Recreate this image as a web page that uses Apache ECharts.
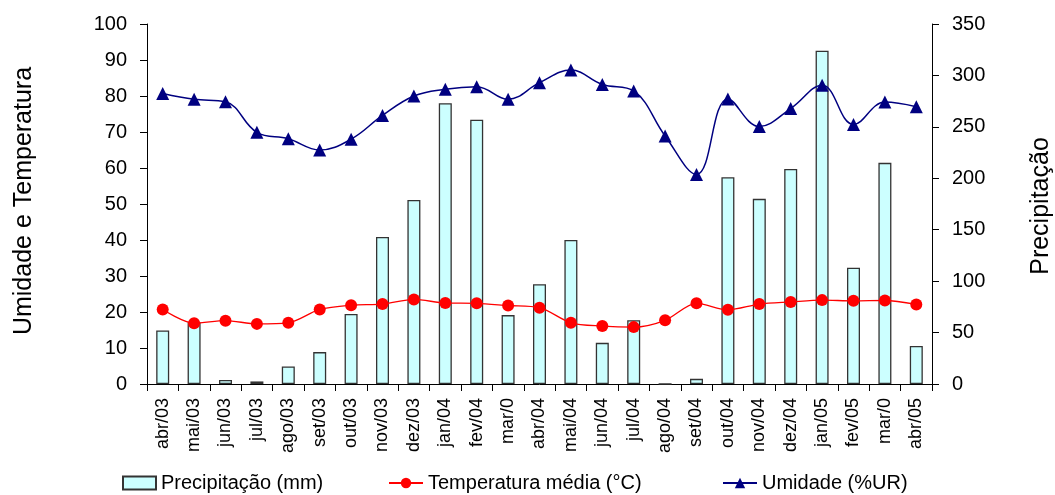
<!DOCTYPE html>
<html>
<head>
<meta charset="utf-8">
<script src="https://cdn.jsdelivr.net/npm/echarts@6/dist/echarts.min.js"></script>
<style>html,body{margin:0;padding:0;background:#fff;}#c{width:1055px;height:495px;}</style>
</head>
<body>
<div id="c"></div>
<script>
const categories = ["abr/03","mai/03","jun/03","jul/03","ago/03","set/03","out/03","nov/03","dez/03","jan/04","fev/04","mar/0","abr/04","mai/04","jun/04","jul/04","ago/04","set/04","out/04","nov/04","dez/04","jan/05","fev/05","mar/0","abr/05"];
const precipitacao = [52,60,4,2.5,17,31,68,143,179,273,257,67,97,140,40,62,0,5,201,180,209,324,113,215,37];
const temperatura = [20.7,16.9,17.6,16.7,17.0,20.7,21.9,22.2,23.5,22.5,22.4,21.8,21.2,17.0,16.1,15.8,17.7,22.4,20.6,22.2,22.8,23.3,23.1,23.2,22.1];
const umidade = [80.7,79.1,78.4,69.9,68.1,65.0,68.0,74.6,80.0,81.9,82.6,79.1,83.7,87.2,83.2,81.4,68.9,58.2,79.2,71.5,76.5,83.0,72.1,78.3,77.0];
const leftTicks = {min:0, max:100, interval:10};
const rightTicks = {min:0, max:350, interval:50};

const FONT = "'Liberation Sans', Arial, sans-serif";
const chart = echarts.init(document.getElementById('c'));
const legendText = {color:'#000', fontSize:20, fontFamily:FONT};
chart.setOption({
  animation:false,
  backgroundColor:'#fff',
  textStyle:{fontFamily:FONT, color:'#000'},
  grid:{left:147, right:123, top:24, bottom:111, containLabel:false},
  legend:[
    {data:[{name:'Precipitação (mm)', icon:'rect'}], left:122, top:473, itemWidth:33, itemHeight:13, itemGap:5, textStyle:legendText, padding:0},
    {data:['Temperatura média (°C)'], left:388, top:473, itemWidth:34, itemHeight:13, textStyle:legendText, padding:0},
    {data:['Umidade (%UR)'], left:722, top:473, itemWidth:34, itemHeight:13, textStyle:legendText, padding:0}
  ],
  xAxis:{
    type:'category', data:categories,
    axisLine:{lineStyle:{color:'#000', width:1}},
    axisTick:{show:true, length:7, lineStyle:{color:'#000'}},
    axisLabel:{rotate:90, margin:14, fontSize:18, color:'#000', fontFamily:FONT, interval:0}
  },
  yAxis:[
    {type:'value', min:leftTicks.min, max:leftTicks.max, interval:leftTicks.interval, position:'left',
     axisLine:{show:true, lineStyle:{color:'#000'}}, axisTick:{show:true, length:7, lineStyle:{color:'#000'}},
     axisLabel:{margin:20, fontSize:20, color:'#000', fontFamily:FONT}, splitLine:{show:false}},
    {type:'value', min:rightTicks.min, max:rightTicks.max, interval:rightTicks.interval, position:'right',
     axisLine:{show:true, lineStyle:{color:'#000'}}, axisTick:{show:true, length:7, lineStyle:{color:'#000'}},
     axisLabel:{margin:20, fontSize:20, color:'#000', fontFamily:FONT}, splitLine:{show:false}}
  ],
  graphic:[
    {type:'text', x:24, y:201, rotation:Math.PI/2, style:{text:'Umidade e Temperatura', fontSize:25, fontFamily:FONT, fill:'#000', textAlign:'center', textVerticalAlign:'middle'}},
    {type:'text', x:1041, y:206, rotation:Math.PI/2, style:{text:'Precipitação', fontSize:25, fontFamily:FONT, fill:'#000', textAlign:'center', textVerticalAlign:'middle'}}
  ],
  series:[
    {name:'Precipitação (mm)', type:'bar', yAxisIndex:1, data:precipitacao, barWidth:13,
     itemStyle:{color:'#CCFFFF', borderColor:'#333', borderWidth:1.3}},
    {name:'Temperatura média (°C)', type:'line', yAxisIndex:0, data:temperatura, smooth:0.3,
     symbol:'circle', symbolSize:12, lineStyle:{color:'#FF0000', width:1.3}, itemStyle:{color:'#FF0000'}},
    {name:'Umidade (%UR)', type:'line', yAxisIndex:0, data:umidade, smooth:0.4,
     symbol:'triangle', symbolSize:13, lineStyle:{color:'#000080', width:1.5}, itemStyle:{color:'#000080'}}
  ]
});
</script>
</body>
</html>
